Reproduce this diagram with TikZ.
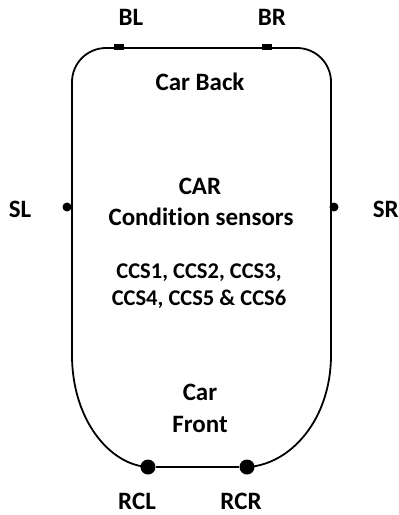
\documentclass[tikz,border=0pt]{standalone}
\usepackage{fontspec}
\setmainfont{Carlito}[Ligatures=NoCommon]
\tikzset{
	lbl/.style={font=\bfseries\fontsize{25}{28}\selectfont, inner sep=0pt, anchor=base},
	ccs/.style={lbl, font=\bfseries\fontsize{22.5}{26}\selectfont},
	sqmark/.style={fill=black, minimum width=10pt, minimum height=6pt, inner sep=0pt},
	dotmark/.style={circle, fill=black, minimum size=#1, inner sep=0pt}
}
\begin{document}
\begin{tikzpicture}[x=1pt, y=-1pt, line width=1.8pt]
	\useasboundingbox (0,0) rectangle (399,515);
	% markers
	\node[sqmark] (bl) at (119,47) {};
	\node[sqmark] (br) at (267,47) {};
	\node[dotmark=9pt] (sl) at (67,207) {};
	\node[dotmark=9pt] (sr) at (334,207) {};
	\node[dotmark=15pt] (rcl) at (148,467) {};
	\node[dotmark=15pt] (rcr) at (247,467) {};
	% car body
	\draw[rounded corners=34pt] (72,355) -- (72,48) -- (331,48) -- (331,355);
	\draw (72,355) .. controls (72,420) and (110,465) .. (rcl.center);
	\draw (331,355) .. controls (331,420) and (290,465) .. (rcr.center);
	\draw[line width=1.5pt] (rcl) -- (rcr);
	% labels
	\node[lbl] (bllbl) at (131,25) {BL};
	\node[lbl] (brlbl) at (272,25) {BR};
	\node[lbl] (sllbl) at (20,217) {SL};
	\node[lbl, anchor=base west] (srlbl) at (372,217) {SR};
	\node[lbl] (rcllbl) at (137,509) {RCL};
	\node[lbl] (rcrlbl) at (241,509) {RCR};
	% texts inside
	\node[lbl] (back) at (200,90) {Car Back};
	\node[lbl] (car) at (200,194) {CAR};
	\node[lbl] (cond) at (201,225) {Condition sensors};
	\node[ccs] (ccsa) at (199,278) {CCS1, CCS2, CCS3,};
	\node[ccs] (ccsb) at (199,305) {CCS4, CCS5 \& CCS6};
	\node[lbl] (front1) at (200,400) {Car};
	\node[lbl] (front2) at (200,432) {Front};
\end{tikzpicture}
\end{document}
